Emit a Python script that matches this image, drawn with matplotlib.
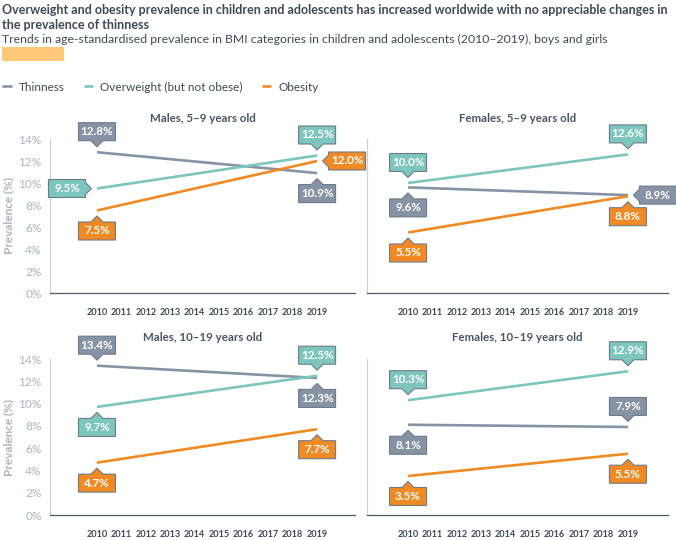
import matplotlib
matplotlib.use("Agg")
import matplotlib.pyplot as plt
from matplotlib.patches import Polygon, Rectangle
from matplotlib.transforms import ScaledTranslation

plt.rcParams['font.family'] = ['Lato', 'DejaVu Sans']

# ---- data -------------------------------------------------------------
years = [2010, 2019]
year_ticks = list(range(2010, 2020))
panels = ["Males, 5\u20139 years old", "Females, 5\u20139 years old",
          "Males, 10\u201319 years old", "Females, 10\u201319 years old"]
series_names = ["Thinness", "Overweight (but not obese)", "Obesity"]
thinness   = [[12.8, 10.9], [9.6, 8.9], [13.4, 12.3], [8.1, 7.9]]
overweight = [[9.5, 12.5], [10.0, 12.6], [9.7, 12.5], [10.3, 12.9]]
obesity    = [[7.5, 12.0], [5.5, 8.8], [4.7, 7.7], [3.5, 5.5]]

# where each value label sits relative to its point (2010, 2019)
sides = {
    "Thinness":                   [["up", "down"], ["down", "right"], ["up", "down"], ["down", "up"]],
    "Overweight (but not obese)": [["left", "up"], ["up", "up"], ["down", "up"], ["up", "up"]],
    "Obesity":                    [["down", "right"], ["down", "down"], ["down", "down"], ["down", "down"]],
}

colors = {"Thinness": "#8693A4", "Overweight (but not obese)": "#7CC6BD", "Obesity": "#F28A24"}
dark = "#3E4A59"
light = "#A9B5C3"

fig = plt.figure(figsize=(6.76, 5.4), dpi=100)

fig.text(0.003, 1 - 10 / 540, "Overweight and obesity prevalence in children and adolescents has increased worldwide with no appreciable changes in",
         fontsize=9.0, fontweight='bold', color=dark, va='center', ha='left')
fig.text(0.003, 1 - 25 / 540, "the prevalence of thinness",
         fontsize=9.0, fontweight='bold', color=dark, va='center', ha='left')
fig.text(0.003, 1 - 39 / 540, "Trends in age-standardised prevalence in BMI categories in children and adolescents (2010\u20132019), boys and girls",
         fontsize=8.85, color=dark, va='center', ha='left')
fig.patches.append(Rectangle((2 / 676, 1 - 61 / 540), 62 / 676, 14 / 540,
                             transform=fig.transFigure, color="#FFC878", lw=0))


def callout(ax, x, y, txt, color, side):
    w, h, pw, ph, gap = 0.37, 0.18, 0.06, 0.06, 0.055
    if side in ("up", "down"):
        s = 1 if side == "up" else -1
        b = s * (gap + ph)
        t = b + s * h
        verts = [(-w / 2, b), (-pw, b), (0, s * gap), (pw, b), (w / 2, b), (w / 2, t), (-w / 2, t)]
        cx, cy = 0, (b + t) / 2
    else:
        s = 1 if side == "right" else -1
        b = s * (gap + ph)
        e = b + s * w
        verts = [(b, -h / 2), (e, -h / 2), (e, h / 2), (b, h / 2), (b, pw), (s * gap, 0), (b, -pw)]
        cx, cy = (b + e) / 2, 0
    tr = fig.dpi_scale_trans + ScaledTranslation(x, y, ax.transData)
    ax.add_patch(Polygon(verts, closed=True, transform=tr, facecolor=color,
                         edgecolor="#6E7A89", lw=0.8, clip_on=False, zorder=5))
    ax.text(cx, cy, txt, transform=tr, ha='center', va='center', color='white',
            fontsize=8.4, fontweight='bold', zorder=6)


rects = [
    [50 / 676, 1 - 293 / 540, 305 / 676, 154 / 540],
    [367 / 676, 1 - 293 / 540, 301 / 676, 154 / 540],
    [50 / 676, 1 - 515 / 540, 305 / 676, 156 / 540],
    [367 / 676, 1 - 515 / 540, 301 / 676, 156 / 540],
]
xlims = [(2008.08, 2020.55), (2008.32, 2020.64)]
data = {"Thinness": thinness, "Overweight (but not obese)": overweight, "Obesity": obesity}

handles = []
for i, name in enumerate(panels):
    ax = fig.add_axes(rects[i])
    for s in series_names:
        vals = data[s][i]
        ln, = ax.plot(years, vals, color=colors[s], lw=1.9, solid_capstyle='butt', zorder=3)
        if i == 0:
            handles.append(ln)
        for xv, yv, sd in zip(years, vals, sides[s][i]):
            callout(ax, xv, yv, f"{yv:.1f}%", colors[s], sd)
    ax.set_xlim(*xlims[i % 2])
    ax.set_ylim(0, 14)
    ax.set_xticks(year_ticks)
    ax.set_xticklabels([str(y) for y in year_ticks], fontsize=6.6, fontweight='bold', color=dark)
    ax.set_yticks(range(0, 15, 2))
    if i % 2 == 0:
        ax.set_yticklabels([f"{v}%" for v in range(0, 15, 2)], fontsize=8.6, color=light)
        ax.set_ylabel("Prevalence (%)", fontsize=8.5, color=light, fontweight='bold', labelpad=3)
    else:
        ax.set_yticklabels([])
    ax.tick_params(axis='x', length=0, pad=10.5)
    ax.tick_params(axis='y', length=0, pad=6)
    for sp in ("top", "right"):
        ax.spines[sp].set_visible(False)
    ax.spines["left"].set_color("#C9D3DC")
    ax.spines["left"].set_linewidth(0.9)
    ax.spines["bottom"].set_color("#4D5968")
    ax.spines["bottom"].set_linewidth(0.9)
    ax.patch.set_alpha(0)
    ax.text(0.5, 1.136, name, transform=ax.transAxes, ha='center', va='center',
            fontsize=8.3, fontweight='bold', color="#4A5566")

fig.legend(handles, series_names, loc='center left', bbox_to_anchor=(0.0, 1 - 87 / 540),
           ncol=3, frameon=False, fontsize=8.5, handlelength=0.8, handletextpad=0.6,
           columnspacing=1.6, labelcolor=dark, borderaxespad=0, borderpad=0.2)

fig.savefig("out.png", dpi=100)
